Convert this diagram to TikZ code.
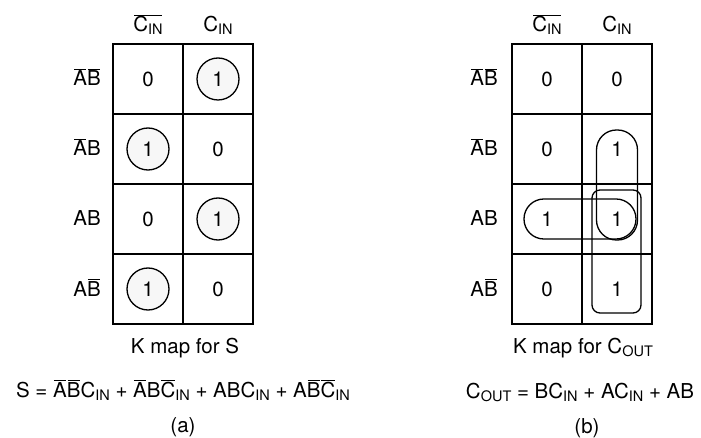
\documentclass[tikz,border=0pt]{standalone}
\usepackage{fontspec}
\setmainfont{TeX Gyre Heros}
\usepackage{tikz}
\usetikzlibrary{positioning}
\newcommand\nt[1]{\kern0.8pt$\overline{\mbox{\kern-0.8pt#1\kern-0.8pt}}$\kern0.8pt}
\newcommand\lsub[1]{\raisebox{-3pt}{\fontsize{14.5}{16}\selectfont #1}}
\tikzset{
  kcell/.style={draw=black, line width=1.7pt, minimum width=70pt, minimum height=70pt, inner sep=0pt, font=\fontsize{20.5}{24}\selectfont},
  ring/.style={draw=black, line width=1.3pt, circle, minimum size=42pt, inner sep=0pt, fill=black!3, font=\fontsize{20.5}{24}\selectfont},
  digit/.style={inner sep=0pt, font=\fontsize{20.5}{24}\selectfont},
  grp/.style={draw=black, line width=1.3pt, inner sep=0pt, rounded corners=19.9pt},
  klabel/.style={inner sep=0pt, font=\fontsize{20.5}{24}\selectfont}
}
\begin{document}
\begin{tikzpicture}[x=1pt,y=-1pt]
  \useasboundingbox (0,0) rectangle (701,438);

  % (a) K map for S
  \node[klabel, anchor=base] (sc0) at (148,32) {\nt{C\lsub{IN}}};
  \node[klabel, anchor=base] (sc1) at (218,32) {C\lsub{IN}};
  \node[klabel, anchor=base east] (sr0) at (101,86) {\nt{A}\nt{B}};
  \node[klabel, anchor=base east] (sr1) at (101,156) {\nt{A}B};
  \node[klabel, anchor=base east] (sr2) at (101,226) {AB};
  \node[klabel, anchor=base east] (sr3) at (101,296) {A\nt{B}};

  \node[kcell] (s00) at (148,79) {0};
  \node[kcell] (s01) at (218,79) {};
  \node[kcell] (s10) at (148,149) {};
  \node[kcell] (s11) at (218,149) {0};
  \node[kcell] (s20) at (148,219) {0};
  \node[kcell] (s21) at (218,219) {};
  \node[kcell] (s30) at (148,289) {};
  \node[kcell] (s31) at (218,289) {0};
  \node[ring] (q01) at (s01) {1};
  \node[ring] (q10) at (s10) {1};
  \node[ring] (q21) at (s21) {1};
  \node[ring] (q30) at (s30) {1};

  \node[klabel, anchor=base] (stitle) at (185,353) {K map for S};
  \node[klabel, anchor=base] (seq) at (183,397) {S = \nt{A}\nt{B}C\lsub{IN} + \nt{A}B\nt{C}\lsub{IN} + ABC\lsub{IN} + A\nt{B}\nt{C}\lsub{IN}};
  \node[klabel, anchor=base] (sa) at (183,432) {(a)};

  % (b) K map for C_OUT
  \node[klabel, anchor=base] (cc0) at (547,32) {\nt{C\lsub{IN}}};
  \node[klabel, anchor=base] (cc1) at (617,32) {C\lsub{IN}};
  \node[klabel, anchor=base east] (cr0) at (498,86) {\nt{A}\nt{B}};
  \node[klabel, anchor=base east] (cr1) at (498,156) {\nt{A}B};
  \node[klabel, anchor=base east] (cr2) at (498,226) {AB};
  \node[klabel, anchor=base east] (cr3) at (498,296) {A\nt{B}};

  \node[kcell] (c00) at (547,79) {0};
  \node[kcell] (c01) at (617,79) {0};
  \node[kcell] (c10) at (547,149) {0};
  \node[kcell] (c11) at (617,149) {};
  \node[kcell] (c20) at (547,219) {};
  \node[kcell] (c21) at (617,219) {};
  \node[kcell] (c30) at (547,289) {0};
  \node[kcell] (c31) at (617,289) {};

  \node[grp, minimum width=41pt, minimum height=110pt] (gbc) at (617,185) {};
  \node[grp, minimum width=112pt, minimum height=40pt] (gab) at (580,219) {};
  \node[grp, rounded corners=8pt, minimum width=49pt, minimum height=123pt] (gac) at (616.5,251.5) {};
  \node[digit] (d11) at (c11) {1};
  \node[digit] (d20) at (c20) {1};
  \node[digit] (d21) at (c21) {1};
  \node[digit] (d31) at (c31) {1};

  \node[klabel, anchor=base] (ctitle) at (583,353) {K map for C\lsub{OUT}};
  \node[klabel, anchor=base] (ceq) at (580,398) {C\lsub{OUT} = BC\lsub{IN} + AC\lsub{IN} + AB};
  \node[klabel, anchor=base] (cb) at (587,433) {(b)};
\end{tikzpicture}
\end{document}
